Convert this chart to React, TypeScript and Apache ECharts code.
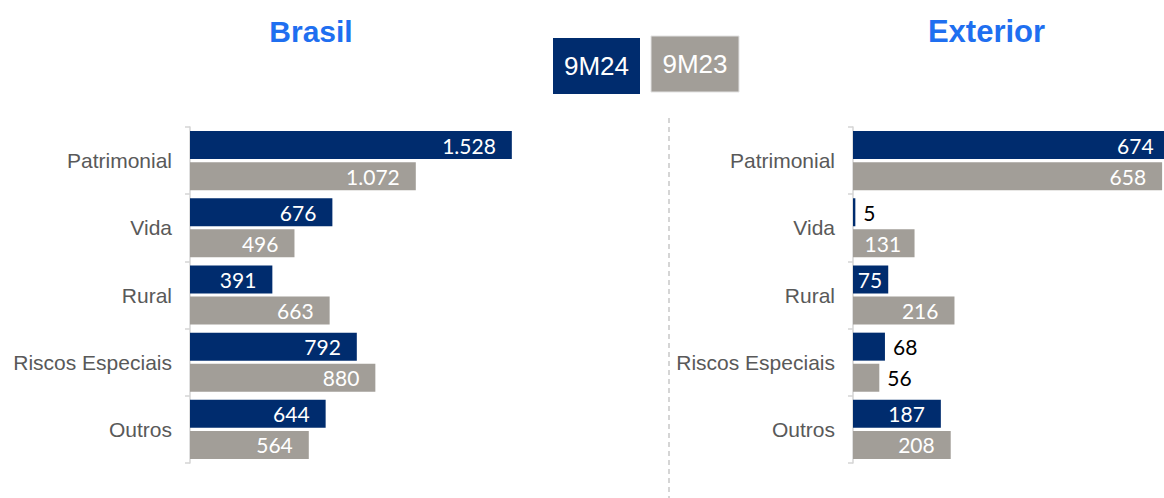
import React, { useEffect, useRef } from "react";
import * as echarts from "echarts";

const categories = ["Patrimonial", "Vida", "Rural", "Riscos Especiais", "Outros"];
const brasil9M24 = [1528, 676, 391, 792, 644];
const brasil9M23 = [1072, 496, 663, 880, 564];
const exterior9M24 = [674, 5, 75, 68, 187];
const exterior9M23 = [658, 131, 216, 56, 208];
const seriesNames = ["9M24", "9M23"];
const panelTitles = ["Brasil", "Exterior"];

const NAVY = "#002c6e";
const GRAY = "#a29e98";
const TITLE_BLUE = "#1f6ff0";

const fmt = (v: number) => v.toLocaleString("de-DE");

// pxPerUnit: scale of the panel, used only to decide label placement
function buildData(values: number[], threshold: number, pxPerUnit: number) {
  return values.map((v) => {
    if (v < threshold) {
      return { value: v, label: { position: "right", distance: 8, color: "#000000" } };
    }
    const text = fmt(v);
    const labelW = text.replace(/\./g, "").length * 11.6 + (text.length - text.replace(/\./g, "").length) * 5;
    const barPx = v * pxPerUnit;
    const d = Math.min(16, Math.max(3, (barPx - labelW) / 2));
    return { value: v, label: { distance: d } };
  });
}

export default function App() {
  const ref = useRef<HTMLDivElement>(null);
  useEffect(() => {
    if (!ref.current) return;
    const chart = echarts.init(ref.current, null, { renderer: "svg" });
    const leftMax = 1600;
    const leftWidth = 337;
    const rightWidth = 311;
    const rightMax = 662;
    const leftScale = leftWidth / leftMax;
    const rightScale = rightWidth / rightMax;
    const labelBase = {
      show: true,
      position: "insideRight",
      distance: 16,
      color: "#ffffff",
      fontFamily: "Lato",
      fontSize: 21,
      formatter: (p: any) => fmt(p.value),
    };
    const yAxisBase = {
      type: "category",
      data: categories,
      inverse: true,
      axisLine: { show: true, lineStyle: { color: "#d4d4d4", width: 1.5 } },
      axisTick: { show: true, length: 5, lineStyle: { color: "#d4d4d4", width: 1.5 } },
      axisLabel: {
        color: "#595959",
        fontFamily: "Liberation Sans",
        fontSize: 21,
        margin: 18,
      },
    };
    const xAxisBase = {
      type: "value",
      min: 0,
      show: false,
      splitLine: { show: false },
    };
    const barBase = {
      type: "bar",
      barWidth: 28,
      barGap: "11%",
      clip: false,
      label: labelBase,
    };
    chart.setOption({
      animation: false,
      grid: [
        { left: 190, top: 127, width: leftWidth, height: 336 },
        { left: 853, top: 127, width: rightWidth, height: 336 },
      ],
      xAxis: [
        { ...xAxisBase, gridIndex: 0, max: leftMax },
        { ...xAxisBase, gridIndex: 1, max: rightMax },
      ],
      yAxis: [
        { ...yAxisBase, gridIndex: 0 },
        { ...yAxisBase, gridIndex: 1 },
      ],
      series: [
        {
          ...barBase,
          name: seriesNames[0],
          xAxisIndex: 0,
          yAxisIndex: 0,
          data: buildData(brasil9M24, 0, leftScale),
          itemStyle: { color: NAVY },
        },
        {
          ...barBase,
          name: seriesNames[1],
          xAxisIndex: 0,
          yAxisIndex: 0,
          data: buildData(brasil9M23, 0, leftScale),
          itemStyle: { color: GRAY },
        },
        {
          ...barBase,
          name: seriesNames[0],
          xAxisIndex: 1,
          yAxisIndex: 1,
          data: buildData(exterior9M24, 70, rightScale),
          itemStyle: { color: NAVY },
        },
        {
          ...barBase,
          name: seriesNames[1],
          xAxisIndex: 1,
          yAxisIndex: 1,
          data: buildData(exterior9M23, 70, rightScale),
          itemStyle: { color: GRAY },
        },
      ],
      graphic: [
        {
          type: "text",
          x: 311,
          y: 31,
          style: {
            text: panelTitles[0],
            fill: TITLE_BLUE,
            font: "bold 30px 'Liberation Sans'",
            align: "center",
            verticalAlign: "middle",
          },
        },
        {
          type: "text",
          x: 986.5,
          y: 31,
          style: {
            text: panelTitles[1],
            fill: TITLE_BLUE,
            font: "bold 31px 'Liberation Sans'",
            align: "center",
            verticalAlign: "middle",
          },
        },
        {
          type: "rect",
          shape: { x: 553, y: 38, width: 87, height: 56 },
          style: { fill: NAVY },
        },
        {
          type: "text",
          x: 596.5,
          y: 66,
          style: {
            text: seriesNames[0],
            fill: "#ffffff",
            font: "26px 'Liberation Sans'",
            align: "center",
            verticalAlign: "middle",
          },
        },
        {
          type: "rect",
          shape: { x: 651, y: 36, width: 88, height: 56 },
          style: { fill: GRAY, stroke: "#e2e2e2", lineWidth: 1 },
        },
        {
          type: "text",
          x: 695,
          y: 64,
          style: {
            text: seriesNames[1],
            fill: "#ffffff",
            font: "26px 'Liberation Sans'",
            align: "center",
            verticalAlign: "middle",
          },
        },
        {
          type: "line",
          shape: { x1: 669, y1: 118, x2: 669, y2: 498 },
          style: { stroke: "#c8c8c8", lineWidth: 1.5, lineDash: [5, 4] },
        },
      ],
    });
    return () => chart.dispose();
  }, []);
  return (
    <div
      ref={ref}
      style={{ position: "fixed", left: 0, top: 0, width: 1164, height: 498, background: "#ffffff" }}
    />
  );
}
